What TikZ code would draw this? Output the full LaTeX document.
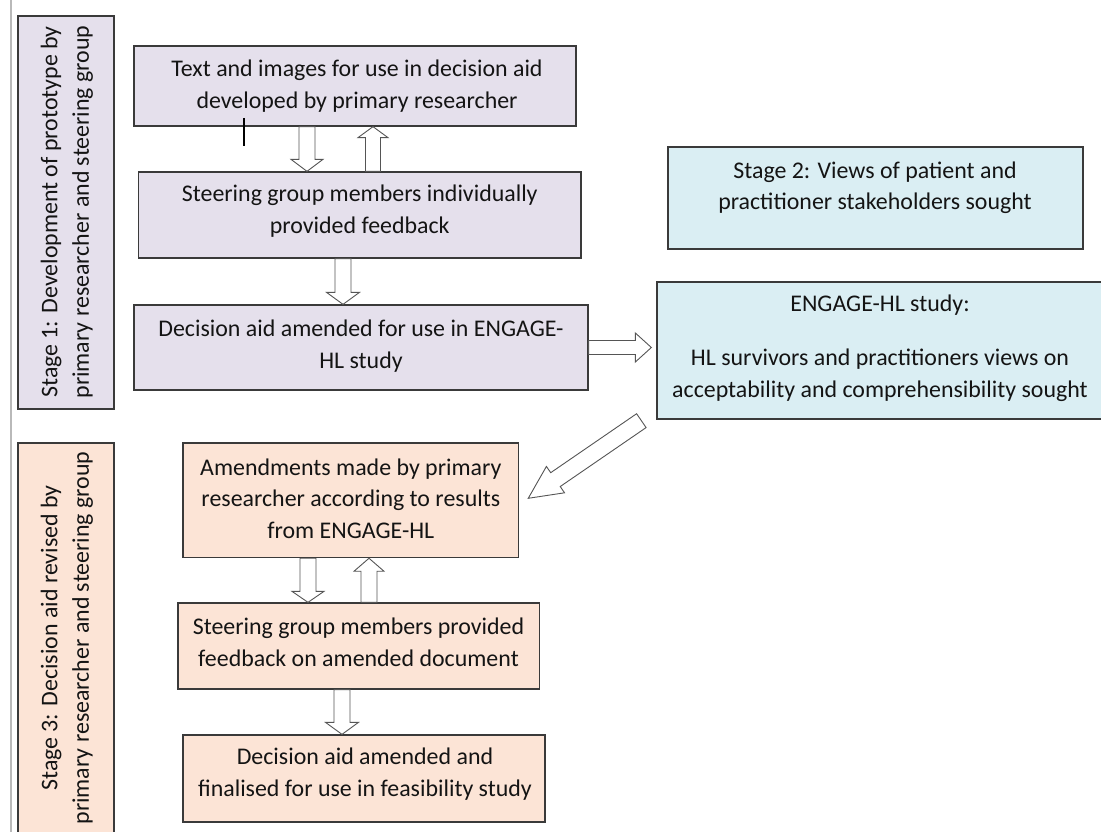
\documentclass[tikz,border=0pt]{standalone}
\usepackage{fontspec}
\setmainfont{Carlito}
\usetikzlibrary{calc}
\definecolor{lav}{HTML}{E5E0EC}
\definecolor{aqua}{HTML}{DAEEF3}
\definecolor{peach}{HTML}{FCE4D6}
\definecolor{edge}{HTML}{3A3A3A}
\definecolor{arrline}{HTML}{555555}
\definecolor{txtc}{HTML}{141414}
\tikzset{
  box/.style={draw=edge, line width=1.3pt, inner sep=0pt},
  txt/.style={align=center, text=txtc, font=\fontsize{23.9}{31.5}\selectfont, inner sep=0pt},
  arr/.style={draw=arrline, fill=white, line width=0.9pt, line join=miter},
}
% block arrow: from, to, half shaft, half head, head length
\newcommand\blockarr[5]{%
  \draw[arr] let \p1=(#1), \p2=(#2),
    \n1={atan2(\y2-\y1,\x2-\x1)}, \n2={veclen(\x2-\x1,\y2-\y1)} in
    [shift={(\p1)}, rotate=\n1]
    (0pt,#3) -- ({\n2*1pt-#5},#3) -- ({\n2*1pt-#5},#4) -- ({\n2*1pt},0pt)
    -- ({\n2*1pt-#5},-#4) -- ({\n2*1pt-#5},-#3) -- (0pt,-#3) -- cycle;}
\begin{document}
\begin{tikzpicture}[x=1pt,y=-1pt]
\useasboundingbox (0,0) rectangle (1101,832);
\fill[white] (0,0) rectangle (1101,832);
\clip (0,0) rectangle (1101,832);
\draw[gray!55, line width=1.5pt] (11,-5) -- (11,840);

% stage boxes
\node[box, fill=lav, minimum width=96pt, minimum height=393pt] (S1) at (66,212.5) {};
\node[txt, rotate=90] (S1t) at (67,212) {Stage 1: Development of prototype by\\primary researcher and steering group};
\node[box, fill=aqua, minimum width=415pt, minimum height=102pt] (S2) at (875.5,198) {};
\node[txt] (S2t) at (875,188) {Stage 2: Views of patient and\\practitioner stakeholders sought};
\node[box, fill=peach, minimum width=96pt, minimum height=402pt] (S3) at (66,644) {};
\node[txt, rotate=90] (S3t) at (67,638) {Stage 3: Decision aid revised by\\primary researcher and steering group};

% process boxes
\node[box, fill=lav, minimum width=442pt, minimum height=80pt] (A) at (355,86) {};
\node[txt] (At) at (357,86) {Text and images for use in decision aid\\developed by primary researcher};
\node[box, fill=lav, minimum width=442.5pt, minimum height=86pt] (B) at (359.75,215) {};
\node[txt] (Bt) at (359.75,211) {Steering group members individually\\provided feedback};
\node[box, fill=lav, minimum width=454pt, minimum height=85pt] (C) at (361,347.5) {};
\node[txt] (Ct) at (361,346) {Decision aid amended for use in ENGAGE-\\HL study};
\node[box, fill=aqua, minimum width=446pt, minimum height=137pt] (D) at (880,350.5) {};
\node[txt] (Dt) at (880,348) {ENGAGE-HL study:\\[23pt]HL survivors and practitioners views on\\acceptability and comprehensibility sought};
\node[box, fill=peach, minimum width=335.6pt, minimum height=114.6pt] (E) at (350.8,500.3) {};
\node[txt] (Et) at (350.8,498.5) {Amendments made by primary\\researcher according to results\\from ENGAGE-HL};
\node[box, fill=peach, minimum width=361.6pt, minimum height=86pt] (F) at (358.8,646) {};
\node[txt] (Ft) at (358.5,642.5) {Steering group members provided\\feedback on amended document};
\node[box, fill=peach, minimum width=362pt, minimum height=87pt] (G) at (364,778.5) {};
\node[txt] (Gt) at (365,774) {Decision aid amended and\\finalised for use in feasibility study};

% arrow columns
\coordinate (c1) at (307,0);
\coordinate (c2) at (373,0);
\coordinate (c3) at (343,0);
\coordinate (c4) at (308,0);
\coordinate (c5) at (369,0);
\coordinate (c6) at (342,0);

\blockarr{A.south -| c1}{B.north -| c1}{8pt}{16pt}{12pt}
\blockarr{B.north -| c2}{A.south -| c2}{7.5pt}{15pt}{11pt}
\blockarr{B.south -| c3}{C.north -| c3}{8pt}{16.5pt}{12pt}
\blockarr{C.east}{$(C.east -| D.west)+(-5,0)$}{7pt}{14.5pt}{16pt}
\blockarr{$(D.south west)+(-15,1)$}{$(E.east)+(9,-2)$}{8.4pt}{16pt}{33pt}
\blockarr{E.south -| c4}{F.north -| c4}{8pt}{16pt}{11pt}
\blockarr{F.north -| c5}{E.south -| c5}{8pt}{15pt}{13pt}
\blockarr{F.south -| c6}{G.north -| c6}{8pt}{16.5pt}{12pt}

% text cursor mark
\coordinate (k1) at (244,118);
\coordinate (k2) at (244,146);
\draw[line width=1.8pt] (k1) -- (k2);
\end{tikzpicture}
\end{document}
